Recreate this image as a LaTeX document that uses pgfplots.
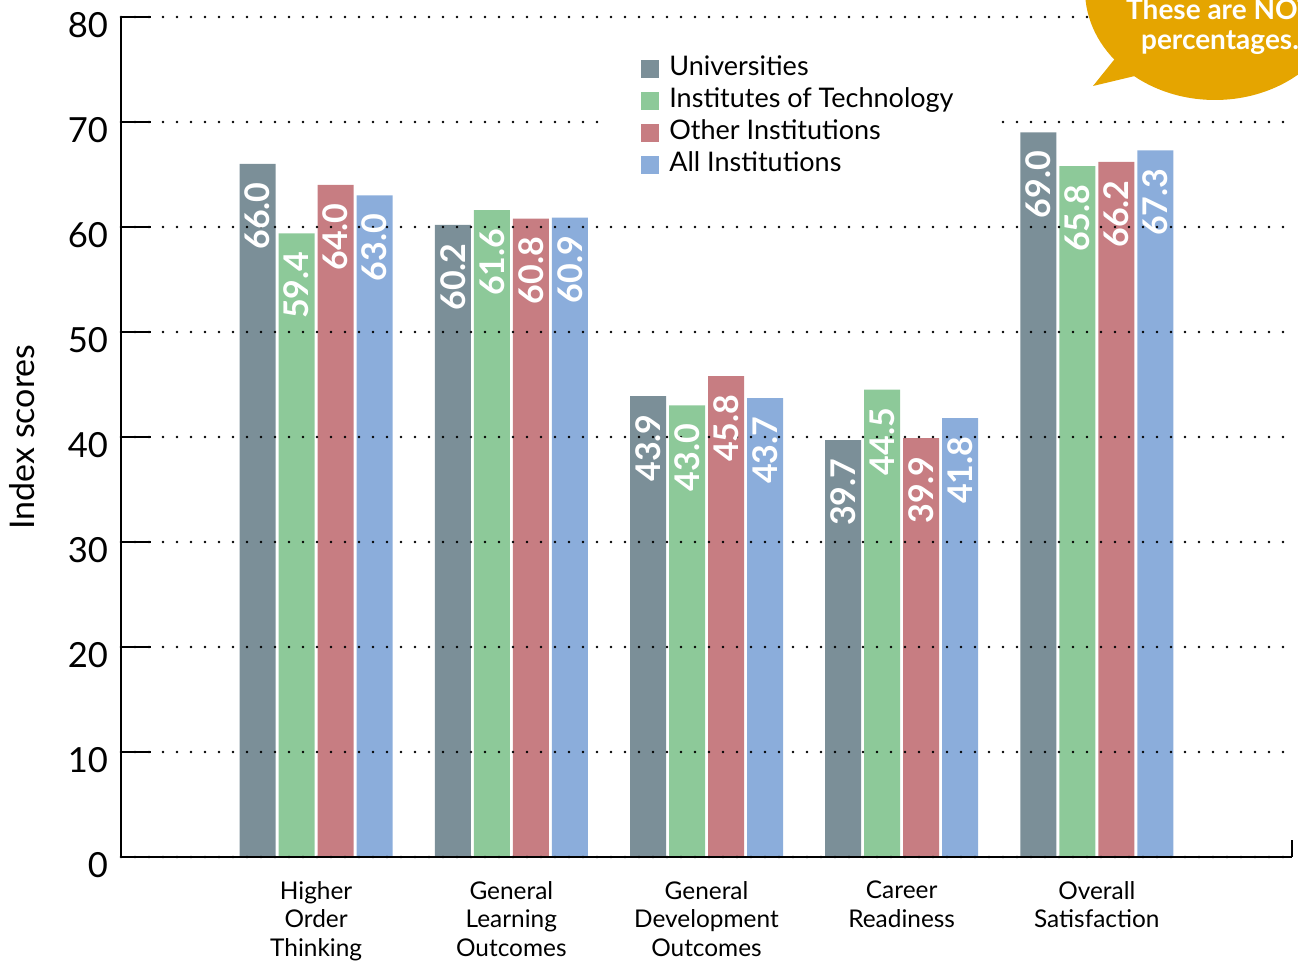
\documentclass[border=0pt]{standalone}
\usepackage{fontspec}
\setmainfont{Lato}
\usepackage{pgfplots}
\pgfplotsset{compat=1.18}

\definecolor{cuni}{RGB}{123,143,152}
\definecolor{cit}{RGB}{141,201,153}
\definecolor{coth}{RGB}{199,125,130}
\definecolor{call}{RGB}{139,173,219}
\definecolor{bubble}{RGB}{229,165,0}

\begin{document}
\begin{tikzpicture}
\begin{axis}[
    at={(0pt,0pt)}, anchor=south west,
    scale only axis, width=585.5pt, height=420pt,
    xmin=-1, xmax=5, ymin=0, ymax=80,
    ybar=1.5pt, bar width=18pt,
    axis x line*=bottom, axis y line*=left,
    axis line style={-, line width=1.2pt},
    every outer x axis line/.append style={-},
    every outer y axis line/.append style={-},
    axis on top,
    xtick={0,1,2,3,4},
    xticklabels={{Higher\\Order\\Thinking},{General\\Learning\\Outcomes},{General\\Development\\Outcomes},{Career\\Readiness},{Overall\\Satisfaction}},
    xticklabel style={align=center, font=\fontsize{12.2}{14.25}\selectfont, yshift=-8.5pt},
    major x tick style={draw=none},
    ytick={0,10,...,80},
    ytick pos=left,
    tick align=inside,
    major tick length=15pt,
    major y tick style={black, line width=1.2pt},
    yticklabel style={font=\fontsize{17.3}{20}\selectfont, xshift=-3pt, yshift=-4pt},
    /pgf/number format/assume math mode=true,
    ymajorgrids,
    grid style={black, line width=1.3pt, line cap=round, dash pattern=on 0pt off 7pt},
    ylabel={Index scores},
    every axis y label/.style={at={(axis description cs:-0.0845,0.5)}, rotate=90, anchor=center, font=\fontsize{17}{18}\selectfont},
    nodes near coords={\pgfmathprintnumber[fixed,fixed zerofill,precision=1]{\pgfplotspointmeta}},
    every node near coord/.append style={rotate=90, anchor=east, text=white, inner xsep=9pt, font=\bfseries\fontsize{17}{18}\selectfont},
    legend style={at={(0.4133,0.9715)}, anchor=north west, draw=none, fill=white,
        inner xsep=18pt, inner ysep=6pt, font=\fontsize{13.5}{15}\selectfont,
        row sep=0pt,
        nodes={inner xsep=5pt, inner ysep=0pt, text height=11pt, text depth=5pt}},
    legend cell align=left,
    legend image code/.code={\fill[#1] (0pt,-4.5pt) rectangle (9pt,4.5pt);},
]
\addplot[fill=cuni, draw=none] coordinates {(0,66.0) (1,60.2) (2,43.9) (3,39.7) (4,69.0)};
\addplot[fill=cit, draw=none] coordinates {(0,59.4) (1,61.6) (2,43.0) (3,44.5) (4,65.8)};
\addplot[fill=coth, draw=none] coordinates {(0,64.0) (1,60.8) (2,45.8) (3,39.9) (4,66.2)};
\addplot[fill=call, draw=none] coordinates {(0,63.0) (1,60.9) (2,43.7) (3,41.8) (4,67.3)};
\legend{Universities, Institutes of Technology, Other Institutions, All Institutions}
\end{axis}
% right end tick of the x axis
\draw[line width=1.2pt] (585.5pt,0pt) -- (585.5pt,8.5pt);
% call-out bubble
\fill[bubble] (547pt,433.5pt) ellipse [x radius=65pt, y radius=55pt];
\fill[bubble] (486pt,385.5pt) -- (504.5pt,408.5pt) -- (519.5pt,393.5pt) -- cycle;
\node[text=white, font=\bfseries\fontsize{14}{15}\selectfont, align=center] at (549.5pt,415pt) {These are NOT\\percentages.};
\pgfresetboundingbox
\path[use as bounding box] (-60.5pt,-53pt) rectangle (588.5pt,428.5pt);
\end{tikzpicture}
\end{document}
